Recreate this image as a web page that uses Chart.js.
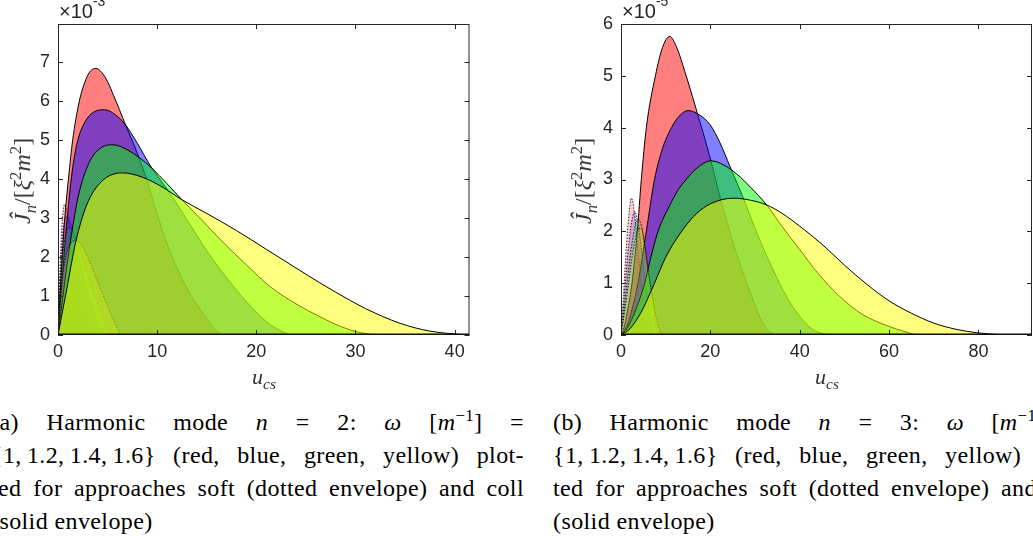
<!DOCTYPE html>
<html>
<head>
<meta charset="utf-8">
<title>Harmonic modes n = 2 and n = 3</title>
<script src="https://cdn.jsdelivr.net/npm/chart.js@4.4.1/dist/chart.umd.min.js"></script>
<style>
html, body { margin: 0; padding: 0; background: #fff; }
body { position: relative; width: 1033px; height: 544px; overflow: hidden; }
.panel { position: absolute; top: 0; }
.expo { position: absolute; top: 1px; font: 20px/20px "Liberation Sans", Arial, sans-serif; color: #262626; white-space: nowrap; }
.expo sup { font-size: 14px; position: relative; top: -12px; vertical-align: baseline; line-height: 0; }
.ytitle { position: absolute; transform: translate(-50%, -50%) rotate(-90deg); font: 24px/26px "Liberation Serif", serif; color: #333; white-space: nowrap; }
.xtitle { position: absolute; top: 366px; transform: translateX(-50%); font: italic 22px/22px "Liberation Serif", serif; color: #333; white-space: nowrap; }
sub, sup { line-height: 0; font-size: 70%; }
.cap { position: absolute; top: 406px; width: 533px; font-family: "Liberation Serif", serif; font-size: 24px; line-height: 33px; letter-spacing: 0.4px; color: #000; }
.cap .j { text-align: justify; text-align-last: justify; }
</style>
</head>
<body>

<div class="panel" style="left:0;width:500px;height:395px"><canvas id="chartA" width="500" height="395"></canvas></div>
<div class="panel" style="left:560px;width:473px;height:395px"><canvas id="chartB" width="473" height="395"></canvas></div>

<div class="expo" style="left:59px">×10<sup>-3</sup></div>
<div class="expo" style="left:622px">×10<sup>-5</sup></div>

<div class="ytitle" style="left:22px;top:181px"><i>Ĵ</i><sub><i>n</i></sub>/[<i>ξ</i><sup>2</sup><i>m</i><sup>2</sup>]</div>
<div class="ytitle" style="left:583px;top:181px"><i>Ĵ</i><sub><i>n</i></sub>/[<i>ξ</i><sup>2</sup><i>m</i><sup>2</sup>]</div>

<div class="xtitle" style="left:264px">u<sub>cs</sub></div>
<div class="xtitle" style="left:827px">u<sub>cs</sub></div>

<div class="cap" style="left:-9px">
  <div class="j">(a) Harmonic mode <i>n</i> = 2: <i>ω</i> [<i>m</i><sup>−1</sup>] =</div>
  <div class="j">{1,&#8201;1.2,&#8201;1.4,&#8201;1.6} (red, blue, green, yellow) plot-</div>
  <div class="j">ted for approaches soft (dotted envelope) and coll</div>
  <div>(solid envelope)</div>
</div>
<div class="cap" style="left:553px">
  <div class="j">(b) Harmonic mode <i>n</i> = 3: <i>ω</i> [<i>m</i><sup>−1</sup>] =</div>
  <div class="j">{1,&#8201;1.2,&#8201;1.4,&#8201;1.6} (red, blue, green, yellow) plot-</div>
  <div class="j">ted for approaches soft (dotted envelope) and coll</div>
  <div>(solid envelope)</div>
</div>

<script>
( function () {
    "use strict";

// tick labels
var xTicksA = [0, 10, 20, 30, 40];
var yTicksA = [0, 1, 2, 3, 4, 5, 6, 7];
var xTicksB = [0, 20, 40, 60, 80];
var yTicksB = [0, 1, 2, 3, 4, 5, 6];

var omega = [1, 1.2, 1.4, 1.6];   // red, blue, green, yellow

// (a) n = 2, values in units of 1e-3, solid envelope (coll)
var uCollRedA = [0, 0.25, 0.5, 0.75, 1.07, 1.48, 2.15, 2.8, 3.3, 3.83, 4.4, 5.0, 5.6, 6.2, 6.8, 7.5, 8.0, 9.0, 10.0, 11.0, 12.0, 13.0, 14.0, 15.0, 15.8, 16.5];
var jCollRedA = [0, 1.25, 2.35, 3.2, 4.05, 5.0, 6.0, 6.55, 6.78, 6.84, 6.74, 6.5, 6.15, 5.78, 5.4, 4.98, 4.66, 3.95, 3.1, 2.35, 1.72, 1.2, 0.78, 0.42, 0.15, 0];
var uCollBlueA = [0, 0.3, 0.6, 0.9, 1.2, 1.57, 2.0, 2.75, 3.6, 4.7, 5.8, 6.78, 8.0, 9.3, 10.8, 12.0, 13.0, 14.0, 15.0, 16.4, 18.0, 19.2, 20.4, 21.5, 22.5, 23.4];
var jCollBlueA = [0, 1.05, 2.0, 2.9, 3.7, 4.45, 5.0, 5.48, 5.72, 5.78, 5.65, 5.4, 4.92, 4.35, 3.81, 3.36, 2.96, 2.56, 2.16, 1.67, 1.15, 0.8, 0.48, 0.25, 0.1, 0];
var uCollGreenA = [0, 0.4, 0.8, 1.34, 2.08, 3.1, 4.2, 5.6, 7.0, 8.2, 9.47, 11.0, 12.5, 14.5, 16.4, 19.0, 21.4, 24.0, 26.4, 28.5, 30.5, 32.0];
var jCollGreenA = [0, 0.8, 1.6, 2.55, 3.6, 4.4, 4.78, 4.88, 4.75, 4.55, 4.28, 3.88, 3.47, 2.95, 2.44, 1.8, 1.24, 0.8, 0.47, 0.22, 0.06, 0];
var uCollYellowA = [0, 0.9, 1.8, 2.9, 4.4, 6.5, 8.5, 10.5, 12.5, 15.0, 18.0, 21.0, 24.0, 26.4, 28.0, 31.0, 34.5, 37.5, 41.2];
var jCollYellowA = [0, 1.2, 2.4, 3.34, 3.94, 4.16, 4.05, 3.8, 3.47, 3.12, 2.68, 2.2, 1.72, 1.34, 1.1, 0.68, 0.3, 0.1, 0];

// (a) dotted envelope (soft)
var uSoftRedA = [0, 0.1, 0.2, 0.35, 0.5, 0.65, 0.85, 1.1, 1.5, 2.0, 2.5, 3.0, 3.5, 3.9];
var jSoftRedA = [0, 0.9, 1.7, 2.6, 3.15, 3.35, 3.25, 2.9, 2.25, 1.5, 0.9, 0.45, 0.15, 0];
var uSoftBlueA = [0, 0.12, 0.25, 0.4, 0.6, 0.85, 1.1, 1.5, 2.0, 2.5, 3.0, 3.5, 4.0, 4.6];
var jSoftBlueA = [0, 0.8, 1.6, 2.35, 2.85, 3.05, 3.0, 2.65, 2.1, 1.55, 1.05, 0.65, 0.3, 0];
var uSoftGreenA = [0, 0.15, 0.3, 0.5, 0.75, 1.05, 1.4, 1.9, 2.5, 3.0, 3.5, 4.0, 4.6, 5.3];
var jSoftGreenA = [0, 0.7, 1.4, 2.1, 2.55, 2.75, 2.7, 2.4, 1.95, 1.55, 1.15, 0.8, 0.4, 0];
var uSoftYellowA = [0, 0.2, 0.4, 0.7, 1.0, 1.4, 1.85, 2.4, 3.0, 3.6, 4.2, 4.9, 5.6, 6.3];
var jSoftYellowA = [0, 0.75, 1.35, 1.9, 2.2, 2.38, 2.42, 2.3, 2.0, 1.62, 1.24, 0.8, 0.38, 0];

// (b) n = 3, values in units of 1e-5, solid envelope (coll)
var uCollRedB = [0, 0.7, 1.4, 2.46, 3.65, 4.55, 5.67, 7.7, 9.3, 10.9, 12.6, 14.3, 16.0, 17.6, 18.4, 20.3, 22.2, 24.5, 26.6, 28.5, 30.7, 32.5, 34.5];
var jCollRedB = [0, 0.15, 0.44, 1.0, 2.0, 3.0, 4.0, 5.0, 5.55, 5.76, 5.52, 5.08, 4.6, 4.13, 3.9, 3.3, 2.65, 1.95, 1.38, 0.92, 0.42, 0.13, 0];
var uCollBlueB = [0, 1.0, 2.0, 3.8, 5.67, 7.5, 9.3, 11.3, 13.0, 15.0, 17.5, 20.0, 22.2, 24.4, 27.4, 30.5, 34.1, 37.0, 40.1, 43.0, 46.5];
var jCollBlueB = [0, 0.12, 0.35, 1.0, 2.0, 3.0, 3.6, 4.0, 4.22, 4.33, 4.25, 4.05, 3.7, 3.25, 2.64, 1.95, 1.25, 0.75, 0.35, 0.1, 0];
var uCollGreenB = [0, 1.5, 3.1, 5.3, 6.4, 8.3, 10.9, 12.8, 14.6, 17.0, 20.1, 23.0, 26.0, 29.0, 32.6, 36.0, 40.1, 44.0, 49.0, 54.0, 60.2, 66.0];
var jCollGreenB = [0, 0.15, 0.44, 1.0, 1.4, 2.0, 2.5, 2.8, 3.0, 3.22, 3.36, 3.28, 3.1, 2.85, 2.51, 2.1, 1.64, 1.2, 0.74, 0.4, 0.16, 0];
var uCollYellowB = [0, 2.0, 4.5, 7.5, 10.0, 14.0, 17.0, 20.0, 25.1, 29.0, 32.6, 36.0, 40.0, 45.0, 50.0, 55.0, 60.0, 65.0, 70.0, 75.0, 80.0, 86.0];
var jCollYellowB = [0, 0.12, 0.44, 1.0, 1.5, 2.05, 2.35, 2.53, 2.64, 2.6, 2.51, 2.35, 2.1, 1.75, 1.35, 0.98, 0.66, 0.42, 0.23, 0.11, 0.04, 0];

// (b) dotted envelope (soft)
var uSoftRedB = [0, 0.5, 1.0, 1.5, 2.0, 2.3, 2.7, 3.2, 3.8, 4.4, 5.0, 5.6, 6.2];
var jSoftRedB = [0, 0.7, 1.45, 2.05, 2.5, 2.64, 2.55, 2.2, 1.65, 1.1, 0.6, 0.22, 0];
var uSoftBlueB = [0, 0.6, 1.2, 1.8, 2.4, 3.06, 3.6, 4.3, 5.0, 5.8, 6.5, 7.2];
var jSoftBlueB = [0, 0.6, 1.25, 1.8, 2.2, 2.38, 2.25, 1.85, 1.35, 0.8, 0.35, 0];
var uSoftGreenB = [0, 0.7, 1.4, 2.1, 2.8, 3.5, 4.0, 4.6, 5.4, 6.2, 7.0, 7.6, 8.2];
var jSoftGreenB = [0, 0.5, 1.05, 1.55, 1.95, 2.2, 2.22, 2.1, 1.7, 1.2, 0.7, 0.3, 0];
var uSoftYellowB = [0, 0.8, 1.6, 2.4, 3.2, 4.0, 4.6, 5.3, 6.05, 7.0, 8.0, 9.0];
var jSoftYellowB = [0, 0.45, 0.95, 1.45, 1.85, 2.05, 2.05, 1.7, 1.25, 0.75, 0.3, 0];

var collFill = ['rgba(255,0,0,0.5)', 'rgba(0,0,255,0.5)', 'rgba(0,255,0,0.5)', 'rgba(255,255,0,0.5)'];
var softFill = ['rgba(255,0,0,0.2)', 'rgba(0,0,255,0.2)', 'rgba(0,255,0,0.2)', 'rgba(255,255,0,0.2)'];

function points(u, j) {
    var out = [];
    for (var i = 0; i < u.length; i++) {
        out.push({ x: u[i], y: j[i] });
    }
    return out;
}

// red soft is drawn first, yellow coll last (higher order = drawn earlier)
function buildSets(coll, soft) {
    var sets = [];
    for (var k = 0; k < 4; k++) {
        sets.push({
            label: 'soft, omega = ' + omega[k],
            data: points(soft[k][0], soft[k][1]),
            order: 7 - 2 * k,
            fill: 'origin',
            backgroundColor: softFill[k],
            borderColor: 'rgba(0,0,0,0.8)',
            borderWidth: 1,
            borderDash: [1.5, 1.5],
            pointRadius: 0,
            cubicInterpolationMode: 'monotone'
        });
        sets.push({
            label: 'coll, omega = ' + omega[k],
            data: points(coll[k][0], coll[k][1]),
            order: 6 - 2 * k,
            fill: 'origin',
            backgroundColor: collFill[k],
            borderColor: '#000',
            borderWidth: 1,
            pointRadius: 0,
            cubicInterpolationMode: 'monotone'
        });
    }
    return sets;
}

// matlab style box with inward ticks on all four sides
var boxPlugin = {
    id: 'matlabBox',
    afterDraw: function (chart) {
        var ctx = chart.ctx, a = chart.chartArea, sx = chart.scales.x, sy = chart.scales.y;
        ctx.save();
        ctx.strokeStyle = '#262626';
        ctx.lineWidth = 1;
        ctx.strokeRect(a.left + 0.5, a.top + 0.5, a.right - a.left - 1, a.bottom - a.top - 1);
        ctx.beginPath();
        sx.ticks.forEach(function (t) {
            var px = Math.round(sx.getPixelForValue(t.value)) + 0.5;
            ctx.moveTo(px, a.bottom); ctx.lineTo(px, a.bottom - 5);
            ctx.moveTo(px, a.top); ctx.lineTo(px, a.top + 5);
        });
        sy.ticks.forEach(function (t) {
            var py = Math.round(sy.getPixelForValue(t.value)) + 0.5;
            ctx.moveTo(a.left, py); ctx.lineTo(a.left + 5, py);
            ctx.moveTo(a.right, py); ctx.lineTo(a.right - 5, py);
        });
        ctx.stroke();
        // bottom edge is darker in the original (patch edges run along it)
        ctx.strokeStyle = '#000';
        ctx.beginPath();
        ctx.moveTo(a.left, a.bottom - 1); ctx.lineTo(a.right, a.bottom - 1);
        ctx.stroke();
        ctx.restore();
    }
};

function drawPanel(id, coll, soft, xMax, yMax, xTicks, yTicks, axisWidth, rightPad) {
    var tickFont = { family: 'Liberation Sans', size: 18 };
    new Chart(document.getElementById(id), {
        type: 'line',
        data: { datasets: buildSets(coll, soft) },
        options: {
            responsive: false,
            animation: false,
            events: [],
            layout: { padding: { top: 24, right: rightPad, left: 0, bottom: 0 } },
            plugins: { legend: { display: false }, tooltip: { enabled: false } },
            scales: {
                x: {
                    type: 'linear', min: 0, max: xMax,
                    afterBuildTicks: function (s) { s.ticks = xTicks.map(function (v) { return { value: v }; }); },
                    afterFit: function (s) { s.height = 60; },
                    grid: { display: false, drawTicks: false },
                    border: { display: false },
                    ticks: { autoSkip: false, maxRotation: 0, padding: 6, color: '#262626', font: tickFont }
                },
                y: {
                    type: 'linear', min: 0, max: yMax,
                    afterBuildTicks: function (s) { s.ticks = yTicks.map(function (v) { return { value: v }; }); },
                    afterFit: function (s) { s.width = axisWidth; },
                    grid: { display: false, drawTicks: false },
                    border: { display: false },
                    ticks: { autoSkip: false, padding: 8, color: '#262626', font: tickFont }
                }
            }
        },
        plugins: [boxPlugin]
    });
}

drawPanel('chartA',
    [[uCollRedA, jCollRedA], [uCollBlueA, jCollBlueA], [uCollGreenA, jCollGreenA], [uCollYellowA, jCollYellowA]],
    [[uSoftRedA, jSoftRedA], [uSoftBlueA, jSoftBlueA], [uSoftGreenA, jSoftGreenA], [uSoftYellowA, jSoftYellowA]],
    41.5, 7.98, xTicksA, yTicksA, 58, 30.5);

drawPanel('chartB',
    [[uCollRedB, jCollRedB], [uCollBlueB, jCollBlueB], [uCollGreenB, jCollGreenB], [uCollYellowB, jCollYellowB]],
    [[uSoftRedB, jSoftRedB], [uSoftBlueB, jSoftBlueB], [uSoftGreenB, jSoftGreenB], [uSoftYellowB, jSoftYellowB]],
    92, 6, xTicksB, yTicksB, 61, 1);

} )();
</script>
</body>
</html>
